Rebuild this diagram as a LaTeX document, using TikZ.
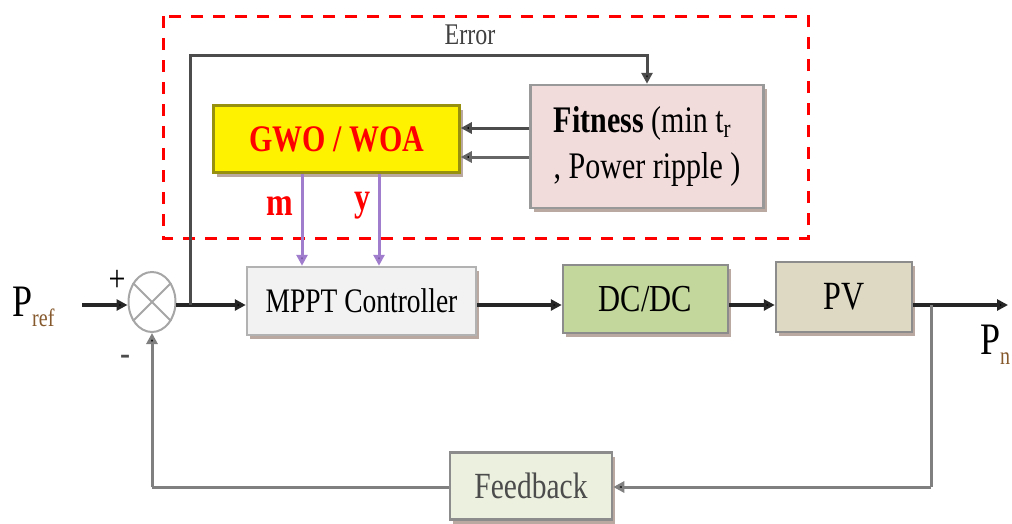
\documentclass[tikz,border=0pt]{standalone}
\usepackage{fontspec}
\setmainfont{Liberation Serif}
\usetikzlibrary{arrows.meta,shapes.geometric,shadows,calc}
\newcommand\vst[1]{\scalebox{1}[1.25]{#1}}
\definecolor{purp}{HTML}{8A5CC2}
\definecolor{lred}{HTML}{FF0000}
\definecolor{shd}{HTML}{9C8478}
\begin{document}
\begin{tikzpicture}[x=1pt,y=-1pt,
  blk/.style={draw, line width=2.5pt, inner sep=0pt, align=center,
    font=\fontsize{29}{37}\selectfont,
    drop shadow={shadow xshift=3pt, shadow yshift=-4pt, fill=shd, opacity=0.7}},
  ln/.style={line width=3.5pt, draw=black!85},
  fbl/.style={line width=3pt, draw=black!50},
  arr/.style={-{Triangle[length=11pt,width=11pt,fill=black]}},
  purarr/.style={line width=3pt, draw=purp!80, -{Triangle[length=11pt,width=11pt,fill=purp!80!black]}},
]
\useasboundingbox (0,0) rectangle (1012,523);
% red dashed box
\draw[lred, line width=3pt, dash pattern=on 12pt off 10pt] (163,16) rectangle (808,238);

% blocks
\node[blk, draw=olive!80!yellow!90!black, fill=yellow, minimum width=246pt, minimum height=67pt,
  font=\fontsize{30}{37}\selectfont\bfseries, text=lred] (gwo) at (336.5,139) {\vst{GWO / WOA}};
\node[blk, draw=black!40, fill={rgb,255:red,242;green,220;blue,219}, minimum width=233pt, minimum height=123pt,
  font=\fontsize{30}{37}\selectfont] (fit) at (647,146.5)
  {\vst{\begin{tabular}{@{}l@{}}\textbf{Fitness} (min t$_\mathrm{r}$\\, Power ripple )\end{tabular}}};
\node[blk, draw=black!30, fill=black!5, minimum width=229pt, minimum height=68pt,
  font=\fontsize{27.5}{33}\selectfont] (mppt) at (361.5,301) {\vst{MPPT Controller}};
\node[blk, draw=black!45, fill={rgb,255:red,195;green,214;blue,155}, minimum width=165pt, minimum height=68pt,
  font=\fontsize{30.5}{37}\selectfont] (dcdc) at (645.5,299) {\vst{DC/DC}};
\node[blk, draw=black!45, fill={rgb,255:red,221;green,217;blue,195}, minimum width=136pt, minimum height=70pt,
  font=\fontsize{32}{37}\selectfont] (pv) at (844,297) {\vst{PV}};
\node[blk, draw=black!45, fill={rgb,255:red,235;green,241;blue,222}, minimum width=162pt, minimum height=67pt,
  font=\fontsize{29.5}{37}\selectfont, text=black!70] (fb) at (531,486) {\vst{Feedback}};

% summing junction
\node[ellipse, draw=black!35, line width=2pt, minimum width=47pt, minimum height=60pt, inner sep=0pt] (sum) at (152,302) {};
\draw[black!35, line width=2pt] (sum.45) -- (sum.225) (sum.135) -- (sum.315);

% coordinates
\coordinate (pin) at (82,305);
\coordinate (sumo) at (176,305);
\coordinate (br1) at (190,305);
\coordinate (errc) at (190,55);
\coordinate (br2) at (931,305);
\coordinate (fbc) at (931,487);
\coordinate (fbl) at (152,487);
\coordinate (pout) at (1008,305);
\coordinate (mx) at (302,0);
\coordinate (yx) at (379,0);

% main path
\draw[ln, arr] (pin) -- (sum.west |- pin);
\draw[ln, arr] (sumo) -- (mppt.west |- sumo);
\draw[ln, arr] (mppt.east |- sumo) -- (dcdc.west |- sumo);
\draw[ln, arr] (dcdc.east |- sumo) -- (pv.west |- sumo);
\draw[ln, arr] (pv.east |- sumo) -- (pout);

% error path
\draw[line width=3pt, draw=black!70, arr] (br1) -- (errc) -| (fit.north);
\draw[line width=3pt, draw=black!70, arr] ($(fit.west)+(0,-18.5)$) -- ($(gwo.east)+(0,-11)$);
\draw[line width=3pt, draw=black!60, arr] ($(fit.west)+(0,10.5)$) -- ($(gwo.east)+(0,18)$);

% m, y
\draw[purarr] (gwo.south -| mx) -- (mppt.north -| mx);
\draw[purarr] (gwo.south -| yx) -- (mppt.north -| yx);

% feedback loop
\draw[fbl] (br2) -- (fbc);
\draw[fbl, arr] (fbc) -- (fb.east |- fbc);
\draw[fbl] (fb.west |- fbc) -- (fbl);
\draw[fbl, arr] (fbl) -- (sum.south);

% labels
\node[font=\fontsize{24}{28}\selectfont, text=black!75] (err) at (470,35) {\vst{Error}};
\node[font=\fontsize{32}{36}\selectfont\bfseries, text=lred] (ml) at (280,206) {\vst{m}};
\node[font=\fontsize{32}{36}\selectfont\bfseries, text=lred] (yl) at (362,206) {\vst{y}};
\node[font=\fontsize{30}{36}\selectfont] (plus) at (117,281) {\vst{+}};
\node[font=\fontsize{30}{36}\selectfont, text=black!70] (minus) at (125,360) {\vst{-}};
\node[font=\fontsize{36}{40}\selectfont, anchor=west, inner sep=0pt] (pref) at (12,307)
  {\vst{P\raisebox{-8pt}{\fontsize{20}{24}\selectfont\color{brown!70!black}ref}}};
\node[font=\fontsize{36}{40}\selectfont, anchor=west, inner sep=0pt] (pn) at (980,345)
  {\vst{P\raisebox{-8pt}{\fontsize{20}{24}\selectfont\color{brown!70!black}n}}};
\end{tikzpicture}
\end{document}
